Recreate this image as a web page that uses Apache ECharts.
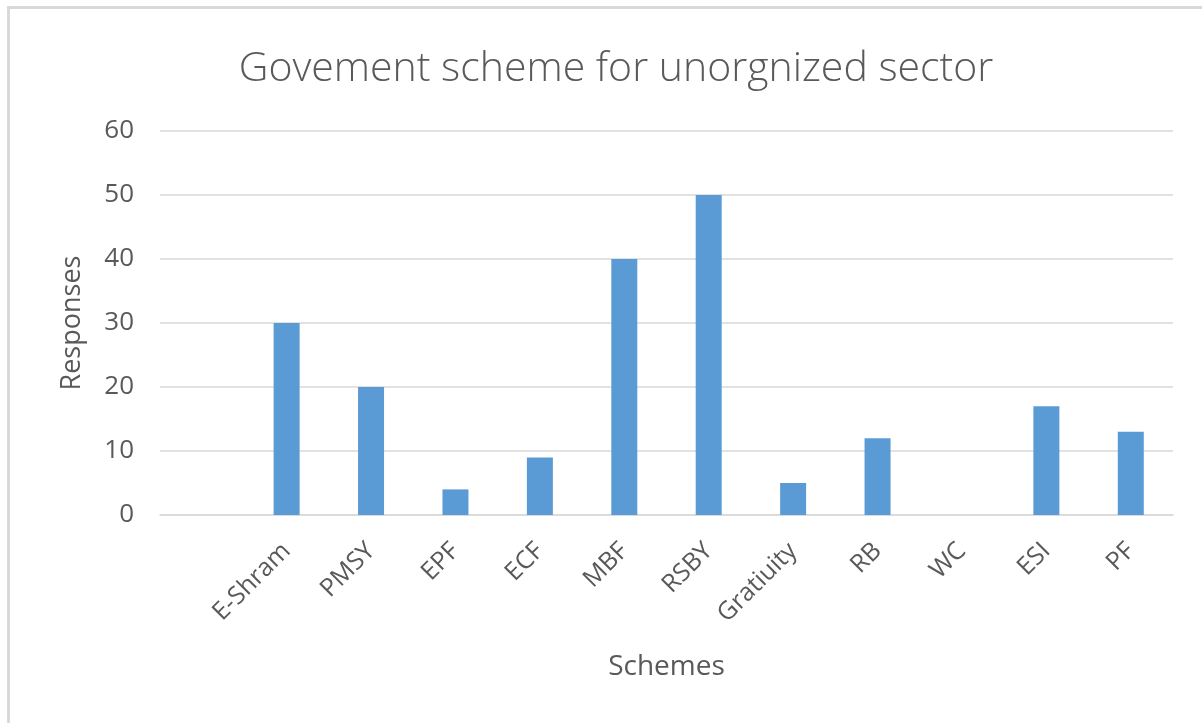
<!DOCTYPE html>
<html>
<head>
<meta charset="utf-8">
<script src="https://cdn.jsdelivr.net/npm/echarts@6/dist/echarts.min.js"></script>
<style>
  html, body { margin: 0; padding: 0; background: #ffffff; }
  #wrap { position: relative; width: 1202px; height: 723px; overflow: hidden; }
  #frame { position: absolute; left: 7px; top: 6px; right: -10px; bottom: -10px;
           border-top: 3px solid #d9d9d9; border-left: 3px solid #d9d9d9; }
  #chart { position: absolute; left: 0; top: 0; width: 1202px; height: 723px; }
</style>
</head>
<body>
<div id="wrap">
  <div id="frame"></div>
  <div id="chart"></div>
</div>
<script>
// Schemes (first slot is an empty category, as in the worksheet range)
const categories = ['', 'E-Shram', 'PMSY', 'EPF', 'ECF', 'MBF', 'RSBY', 'Gratiuity', 'RB', 'WC', 'ESI', 'PF'];
// Number of responses per scheme
const responses = [null, 30, 20, 4, 9, 40, 50, 5, 12, 0, 17, 13];
// Value axis ticks
const yTicks = [0, 10, 20, 30, 40, 50, 60];

const FONT = '"Open Sans", "Noto Sans", sans-serif';
const TEXT = '#595959';

const chart = echarts.init(document.getElementById('chart'), null, { renderer: 'canvas' });
chart.setOption({
  backgroundColor: 'transparent',
  animation: false,
  title: {
    text: 'Govement scheme for unorgnized sector',
    left: 611,
    textAlign: 'center',
    top: 44,
    textStyle: { fontFamily: FONT, fontSize: 41, fontWeight: 300, color: TEXT }
  },
  grid: { left: 160, right: 29, top: 131, bottom: 208, containLabel: false },
  xAxis: {
    type: 'category',
    data: categories,
    boundaryGap: true,
    name: 'Schemes',
    nameLocation: 'middle',
    nameGap: 138,
    nameTextStyle: { fontFamily: FONT, fontSize: 28, color: TEXT },
    axisLine: { show: true, lineStyle: { color: '#d9d9d9', width: 1.5 } },
    axisTick: { show: false },
    axisLabel: {
      interval: 0,
      rotate: 45,
      margin: 32,
      fontFamily: FONT,
      fontSize: 25,
      color: TEXT
    }
  },
  yAxis: {
    type: 'value',
    min: yTicks[0],
    max: yTicks[yTicks.length - 1],
    interval: 10,
    name: 'Responses',
    nameLocation: 'middle',
    nameGap: 74,
    nameTextStyle: { fontFamily: FONT, fontSize: 27, color: TEXT },
    axisLine: { show: false },
    axisTick: { show: false },
    axisLabel: { margin: 26, fontFamily: FONT, fontSize: 26, color: TEXT },
    splitLine: { lineStyle: { color: '#d9d9d9', width: 1.5 } }
  },
  series: [{
    type: 'bar',
    data: responses,
    barWidth: 26,
    itemStyle: { color: '#5b9bd5' }
  }]
});
</script>
</body>
</html>
